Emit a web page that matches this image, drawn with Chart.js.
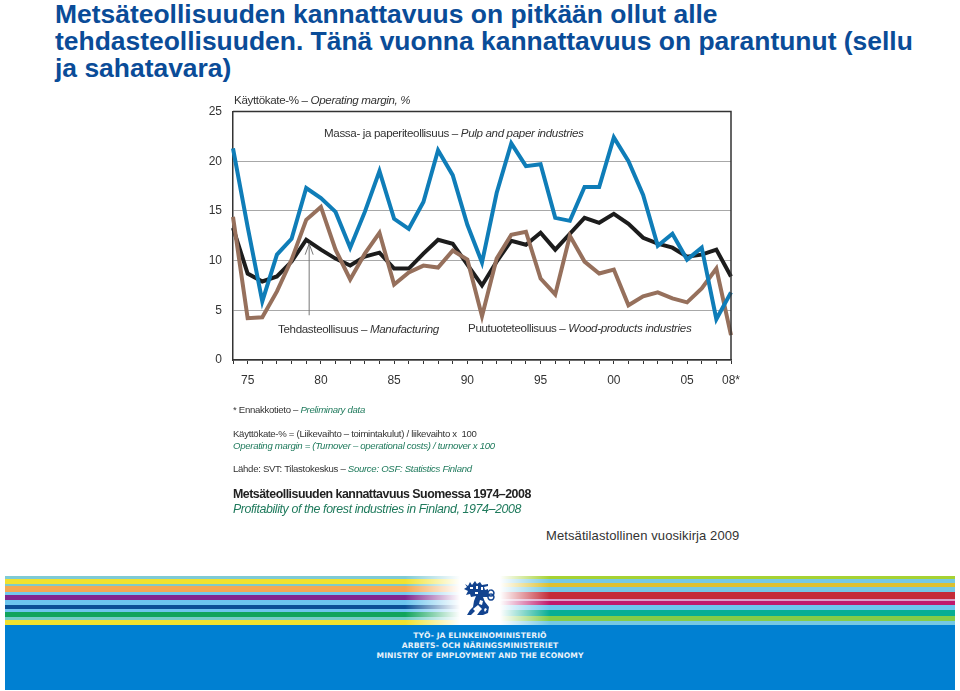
<!DOCTYPE html>
<html>
<head>
<meta charset="utf-8">
<title>Metsäteollisuuden kannattavuus</title>
<script src="https://cdn.jsdelivr.net/npm/chart.js@4"></script>
<style>
    html, body { margin: 0; padding: 0; background: #fff; }
    body { position: relative; width: 960px; height: 691px; overflow: hidden; font-family: "Liberation Sans", Arial, sans-serif; }
    #chartBox { position: absolute; left: 0; top: 0; width: 960px; height: 420px; }
    h1 { position: absolute; left: 55px; top: 1px; margin: 0; white-space: nowrap; font-size: 26.45px; line-height: 27px; font-weight: bold; color: #0a4c98; }
    .t { position: absolute; white-space: nowrap; color: #333; font-size: 11.6px; letter-spacing: -0.35px; }
    .small { font-size: 9.6px; letter-spacing: -0.3px; }
    .n i { color: #1f7a5c; }
    #band { position: absolute; left: 5px; top: 576px; width: 950px; height: 49px; }
    #fill { position: absolute; left: 5px; top: 625px; width: 950px; height: 65px; background: #0080d2; }
    .foot { position: absolute; left: 5px; width: 950px; text-align: center; color: #e8f2fa; font: bold 7.6px "DejaVu Sans", sans-serif; letter-spacing: 0.1px; }
    #lion { position: absolute; left: 462px; top: 578px; }
</style>
</head>
<body>
<h1>Metsäteollisuuden kannattavuus on pitkään ollut alle<br>tehdasteollisuuden. Tänä vuonna kannattavuus on parantunut (sellu<br>ja sahatavara)</h1>
<div id="chartBox"><canvas id="marginChart"></canvas></div>

<div class="t" style="left:234px;top:93px">Käyttökate-% – <i>Operating margin, %</i></div>
<div class="t" style="left:324px;top:126px">Massa- ja paperiteollisuus – <i>Pulp and paper industries</i></div>
<div class="t" style="left:278px;top:322px">Tehdasteollisuus – <i>Manufacturing</i></div>
<div class="t" style="left:468px;top:321px">Puutuoteteollisuus – <i>Wood-products industries</i></div>

<div class="t n small" style="left:233px;top:404px">* Ennakkotieto – <i>Preliminary data</i></div>
<div class="t n small" style="left:233px;top:428px">Käyttökate-% = (Liikevaihto – toimintakulut) / liikevaihto x&nbsp; 100</div>
<div class="t n small" style="left:233px;top:440px"><i>Operating margin = (Turnover – operational costs) / turnover x 100</i></div>
<div class="t n small" style="left:233px;top:463px">Lähde: SVT: Tilastokeskus – <i>Source: OSF: Statistics Finland</i></div>
<div class="t" style="left:233px;top:487px;font-size:12.4px;font-weight:bold;color:#222;letter-spacing:-0.5px">Metsäteollisuuden kannattavuus Suomessa 1974–2008</div>
<div class="t n" style="left:233px;top:502px;font-size:12.4px;letter-spacing:-0.4px"><i>Profitability of the forest industries in Finland, 1974–2008</i></div>
<div class="t" style="left:546px;top:528px;font-size:13px;letter-spacing:0.1px">Metsätilastollinen vuosikirja 2009</div>

<div id="band"></div>
<div id="fill"></div>
<svg id="lion" width="36" height="44" viewBox="0 0 36 44">
    <path fill="#12438f" d="M3 6l3 2 2-4 2 3 3-4 2 3 3-2 2 3 6-1v2l-4 1 1 3 3-1v8h-5l2 5 4 5-1 6-5 2h-6l3-4 2-2-4-4-5 4 2 2-4 4H5l3-5 3-3 1-6 2-5-5 1-1-3-4 1 2-4-4-2 3-2z"/>
    <path fill="none" stroke="#12438f" stroke-width="1.5" d="M29 12a3 3 0 1 1-.1 0M29 16a3 3 0 1 1-.1 0"/>
    <path fill="#fff" d="M8 9h3v2H8zM14 8h2v3h-2zM19 9h2v3h-2zM13 14h3v2h-3zM18 22l3 1-1 4-3-1zM23 30l2 1-2 3-1-2z"/>
</svg>
<div class="foot" style="top:631px">TYÖ- JA ELINKEINOMINISTERIÖ</div>
<div class="foot" style="top:641px">ARBETS- OCH NÄRINGSMINISTERIET</div>
<div class="foot" style="top:651px">MINISTRY OF EMPLOYMENT AND THE ECONOMY</div>

<script>
// Chart data
const years = ['74','75','76','77','78','79','80','81','82','83','84','85','86','87','88','89','90','91',
    '92','93','94','95','96','97','98','99','00','01','02','03','04','05','06','07','08*'];
const yearTicks = ['75','80','85','90','95','00','05','08*'];
const pulpPaper = [21.3,13.4,5.9,10.6,12.2,17.3,16.3,14.9,11.3,14.9,19.0,14.2,13.2,15.9,21.1,18.6,13.6,9.8,
    16.8,21.8,19.5,19.7,14.3,14.0,17.4,17.4,22.4,20.0,16.6,11.5,12.7,10.1,11.3,4.1,6.8];
const woodProducts = [14.4,4.2,4.3,6.9,10.1,14.1,15.4,11.1,8.1,10.7,12.8,7.6,8.8,9.5,9.3,11.0,10.1,4.4,
    10.2,12.6,12.9,8.2,6.6,12.5,9.9,8.7,9.1,5.5,6.4,6.8,6.2,5.8,7.2,9.2,2.5];
const manufacturing = [13.3,8.7,7.9,8.4,9.9,12.1,11.1,10.2,9.5,10.4,10.8,9.2,9.2,10.7,12.1,11.7,9.6,7.5,
    9.9,12.0,11.6,12.8,11.1,12.7,14.3,13.8,14.7,13.7,12.3,11.7,11.3,10.4,10.6,11.1,8.4];

// Footer stripes: [height, colour] from top to bottom
const stripesLeft = [[3,'#7fcbd6'],[5,'#f1e22e'],[2,'#7fcbc8'],[6,'#f4a852'],[3,'#74c8ec'],[5,'#82278f'],
    [5,'#6cc5ee'],[4,'#0a4f96'],[3,'#6cc5ee'],[5,'#10a45c'],[3,'#74ccc8'],[5,'#f1e22e']];
const stripesRight = [[3,'#a6d232'],[4,'#74c8e4'],[4,'#dcc030'],[5,'#74c8e4'],[7,'#c42c38'],[2,'#d8a0c8'],
    [4,'#c0186c'],[5,'#6cc5ee'],[6,'#08ae94'],[5,'#84cc48'],[4,'#74c8e4']];

function stripeGradient(stripes) {
    let y = 0;
    const stops = stripes.map(function(s) {
        const stop = `${s[1]} ${y}px ${y + s[0]}px`;
        y += s[0];
        return stop;
    });
    return `linear-gradient(to bottom, ${stops.join(', ')})`;
}

// Left half fades to white into the logo, right half comes back out of it
const band = document.getElementById('band');
band.style.background =
    'linear-gradient(to right, rgba(255,255,255,0) 400px, #fff 455px, #fff 495px, rgba(255,255,255,0) 545px),' +
    `${stripeGradient(stripesLeft)} left top / 475px 100% no-repeat,` +
    `${stripeGradient(stripesRight)} right top / 475px 100% no-repeat`;

// Thin arrow from the manufacturing label up to its line
const arrowPlugin = {
    id: 'arrowPlugin',
    afterDatasetsDraw: function(chart) {
        const ctx = chart.ctx;
        const x = chart.scales.x.getPixelForValue(5.2);
        const top = chart.scales.y.getPixelForValue(11.7);
        const bottom = chart.scales.y.getPixelForValue(4.5);
        ctx.save();
        ctx.strokeStyle = '#777';
        ctx.lineWidth = 1;
        ctx.beginPath();
        ctx.moveTo(x, bottom);
        ctx.lineTo(x, top);
        ctx.moveTo(x - 4, top + 11);
        ctx.lineTo(x, top);
        ctx.lineTo(x + 4, top + 11);
        ctx.stroke();
        ctx.restore();
    }
};

function lineSet(label, data, color, width) {
    return {
        label: label,
        data: data,
        borderColor: color,
        borderWidth: width,
        pointRadius: 0,
        tension: 0,
        borderJoinStyle: 'miter',
        clip: false
    };
}

new Chart(document.getElementById('marginChart').getContext('2d'), {
    type: 'line',
    data: {
        labels: years,
        datasets: [
            lineSet('Massa- ja paperiteollisuus', pulpPaper, '#0f7db8', 4),
            lineSet('Puutuoteteollisuus', woodProducts, '#96705c', 4),
            lineSet('Tehdasteollisuus', manufacturing, '#1c1c1c', 4)
        ]
    },
    options: {
        responsive: true,
        maintainAspectRatio: false,
        animation: false,
        layout: { padding: { left: 207, right: 229, top: 111.5, bottom: 0 } },
        plugins: { legend: { display: false }, tooltip: { enabled: false } },
        scales: {
            x: {
                offset: false,
                afterFit: function(scale) { scale.height = 60; },
                grid: {
                    drawOnChartArea: false,
                    drawTicks: true,
                    tickLength: 4,
                    tickColor: '#333',
                    tickWidth: 1,
                    color: '#333'
                },
                border: { color: '#333', width: 1.5 },
                ticks: {
                    autoSkip: false,
                    maxRotation: 0,
                    color: '#333',
                    padding: 9,
                    font: { family: 'Liberation Sans', size: 12 },
                    callback: function(value, index) {
                        const label = this.getLabelForValue(index);
                        return yearTicks.includes(label) ? label : '';
                    }
                }
            },
            y: {
                min: 0,
                max: 25,
                afterFit: function(scale) { scale.width = 26; },
                grid: { color: '#a8a8a8', lineWidth: 1, drawTicks: false },
                border: { color: '#333', width: 1.5 },
                ticks: {
                    stepSize: 5,
                    color: '#333',
                    padding: 11,
                    font: { family: 'Liberation Sans', size: 12 }
                }
            }
        }
    },
    plugins: [arrowPlugin, {
        // top and right sides of the frame
        id: 'frame',
        afterDraw: function(chart) {
            const a = chart.chartArea;
            const ctx = chart.ctx;
            ctx.save();
            ctx.strokeStyle = '#333';
            ctx.lineWidth = 1.5;
            ctx.beginPath();
            ctx.moveTo(a.left, a.top);
            ctx.lineTo(a.right, a.top);
            ctx.lineTo(a.right, a.bottom);
            ctx.stroke();
            ctx.restore();
        }
    }]
});
</script>
</body>
</html>
